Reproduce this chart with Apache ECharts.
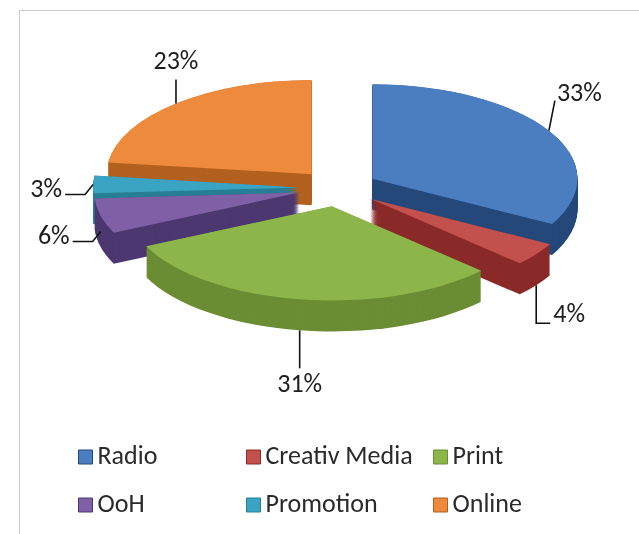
<!DOCTYPE html>
<html>
<head>
<meta charset="utf-8">
<title>Media split</title>
<script src="https://cdn.jsdelivr.net/npm/echarts@6/dist/echarts.min.js"></script>
<style>
  html, body { margin: 0; padding: 0; background: #fff; overflow: hidden; width: 639px; height: 534px; }
  #frame { position: absolute; left: 19px; top: 10px; width: 700px; height: 600px;
           border-top: 1px solid #cacaca; border-left: 1px solid #cacaca; }
  #body3d { position: absolute; left: 0; top: 0; width: 639px; transform-origin: 0 0; }
  #labels { position: absolute; left: 0; top: 0; width: 639px; height: 534px; }
</style>
</head>
<body>
<div id="frame"></div>
<div id="body3d"></div>
<div id="labels"></div>
<script>
// Media budget split (percent)
const categories = ['Radio', 'Creativ Media', 'Print', 'OoH', 'Promotion', 'Online'];
const shares = [33, 4, 31, 6, 3, 23];
const topColors = ['#4a7ec0', '#c2504c', '#8cb54a', '#7f60a6', '#3aa5c2', '#ee8a3c'];
const sideColors = ['#25497a', '#8a2b29', '#6b8d34', '#4d3870', '#277f96', '#b3611f'];

// Tilted-disc geometry in screen pixels
const CX = 338, CY = 188, RX = 205, TILT = 0.46, EXPLODE = 40, DEPTH = 31;
const FONT = "Carlito, Calibri, Lato, sans-serif";

// ---- pie body: drawn flat, then squashed vertically by CSS ----
const bodyEl = document.getElementById('body3d');
const bodyH = Math.ceil(534 / TILT);
bodyEl.style.height = bodyH + 'px';
bodyEl.style.transform = 'scaleY(' + TILT + ')';

function discLayer(depthPx, colors) {
  return {
    type: 'pie',
    silent: true,
    animation: false,
    center: [CX, (CY + depthPx) / TILT],
    radius: RX,
    startAngle: 90,
    clockwise: true,
    selectedMode: 'multiple',
    selectedOffset: EXPLODE,
    label: { show: false },
    labelLine: { show: false },
    emphasis: { disabled: true },
    data: categories.map((name, i) => ({
      name: name,
      value: shares[i],
      selected: true,
      itemStyle: { color: colors[i], borderWidth: 0 }
    }))
  };
}

const bodySeries = [];
// side walls: stacked copies from the bottom upwards
for (let d = DEPTH; d > 0; d -= 0.75) bodySeries.push(discLayer(d, sideColors));
// top faces
bodySeries.push(discLayer(0, topColors));

const bodyChart = echarts.init(bodyEl, null, { renderer: 'svg', width: 639, height: bodyH });
bodyChart.setOption({ animation: false, series: bodySeries });

// ---- labels and legend (unsquashed) ----
const total = shares.reduce((a, b) => a + b, 0);
const midAngles = [];
{
  let acc = 0;
  shares.forEach(v => { midAngles.push(((acc + v / 2) / total) * 2 * Math.PI); acc += v; });
}

function placeLabel(params) {
  const i = params.dataIndex;
  const th = midAngles[i];
  const s = Math.sin(th), c = Math.cos(th);
  const R = RX + EXPLODE;
  const ax = CX + R * s;
  let ay = CY - R * TILT * c;
  if (c < 0) ay += DEPTH * Math.min(1, -2 * c);
  const side = s >= 0 ? 1 : -1;
  const A = [ax, ay];
  const hAlign = side > 0 ? 'left' : 'right';
  if (Math.abs(s) < 0.7) {
    // top or bottom of the disc: straight leader
    const dir = c > 0 ? -1 : 1;
    const B = [ax, ay + dir * (dir > 0 ? 38 : 24)];
    return { x: ax, y: B[1] + dir * 4, align: 'center', verticalAlign: dir < 0 ? 'bottom' : 'top',
             labelLinePoints: [A, B, B] };
  }
  if (c > 0.3) {
    // upper flank: short slanted leader
    const B = [ax + side * 6, ay - 30];
    return { x: B[0] + side * 2, y: B[1] - 6, align: hAlign, verticalAlign: 'middle',
             labelLinePoints: [A, B, B] };
  }
  if (c < -0.3) {
    // lower flank: drop, then run outwards
    const B = [ax, ay + 38];
    const E = [B[0] + side * 14, B[1]];
    return { x: E[0] + side * 3, y: E[1] - 8, align: hAlign, verticalAlign: 'middle',
             labelLinePoints: [A, B, E] };
  }
  // side: small kink, then horizontal
  const B = [ax + side * 8, ay + 10];
  const E = [B[0] + side * 20, B[1]];
  return { x: E[0] + side * 3, y: E[1] - 4, align: hAlign, verticalAlign: 'middle',
           labelLinePoints: [A, B, E] };
}

const legendLeft = [78, 246, 433];
const legends = legendLeft.map((left, col) => ({
  orient: 'vertical',
  left: left,
  top: 443,
  padding: 0,
  itemWidth: 14,
  itemHeight: 14,
  itemGap: 20,
  icon: 'rect',
  selectedMode: false,
  textStyle: { fontFamily: FONT, fontSize: 26, color: '#2a2a2a', lineHeight: 28 },
  data: [col, col + 3].map(i => ({
    name: categories[i],
    itemStyle: { color: topColors[i], opacity: 1, borderColor: sideColors[i], borderWidth: 1 }
  }))
}));

const labelChart = echarts.init(document.getElementById('labels'), null, { width: 639, height: 534 });
labelChart.setOption({
  animation: false,
  legend: legends,
  series: [{
    type: 'pie',
    silent: true,
    center: [CX, CY],
    radius: RX + EXPLODE,
    startAngle: 90,
    clockwise: true,
    avoidLabelOverlap: false,
    emphasis: { disabled: true },
    itemStyle: { color: 'rgba(0,0,0,0)', borderWidth: 0 },
    label: {
      show: true,
      position: 'outside',
      formatter: '{c}%',
      fontFamily: FONT,
      fontSize: 26,
      color: '#1e1e1e'
    },
    labelLine: { show: true, lineStyle: { color: '#111', width: 1.6 } },
    labelLayout: placeLabel,
    data: categories.map((name, i) => ({ name: name, value: shares[i] }))
  }]
});
</script>
</body>
</html>
